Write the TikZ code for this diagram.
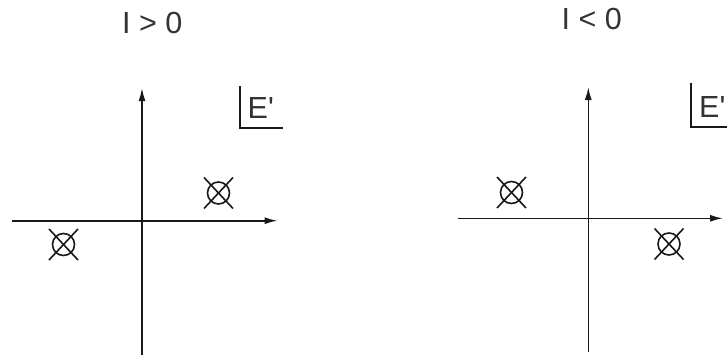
\documentclass[tikz,border=0pt]{standalone}
\usepackage{fontspec}
\newfontfamily\af{Liberation Sans}
\usetikzlibrary{arrows.meta}
\tikzset{
  axis/.style={line width=1.6pt, draw=black!90, -{Latex[length=13pt,width=7pt]}},
  plain/.style={line width=1.6pt, draw=black!90},
  mark circ/.style={circle, draw=black!90, line width=1.6pt, minimum size=22pt, inner sep=0pt},
  lbl/.style={anchor=base west, inner sep=0pt, font=\af\fontsize{30.5}{36}\selectfont, text=black!80},
}
\begin{document}
\begin{tikzpicture}[x=1pt,y=-1pt]
\useasboundingbox (0,0) rectangle (727,354);
% ---------- left panel ----------
\node[lbl] (t1) at (122,33.5) {I > 0};
\coordinate (xl1) at (12,220.7);
\coordinate (xr1) at (277.5,220.7);
\coordinate (yb1) at (142,356);
\coordinate (yt1) at (142,88);
\draw[axis] (xl1) -- (xr1);
\draw[axis] (yb1) -- (yt1);
\coordinate (bt1) at (240,86);
\coordinate (bc1) at (240,128);
\coordinate (be1) at (283,128);
\draw[plain] (bt1) -- (bc1) -- (be1);
\node[lbl] (e1) at (247.5,118) {E'};
\node[mark circ] (c1) at (218.5,193) {};
\node[mark circ] (c2) at (63.5,244.5) {};
\foreach \c in {c1,c2}{
  \draw[plain] ([shift={(-14.5,15.5)}]\c.center) -- ([shift={(14.5,-15.5)}]\c.center);
  \draw[plain] ([shift={(-14.5,-15.5)}]\c.center) -- ([shift={(14.5,15.5)}]\c.center);
}
% ---------- right panel ----------
\node[lbl] (t2) at (561.5,29.5) {I < 0};
\coordinate (xl2) at (458,218.3);
\coordinate (xr2) at (723,218.3);
\coordinate (yb2) at (588.3,352);
\coordinate (yt2) at (588.3,87);
\draw[axis] (xl2) -- (xr2);
\draw[axis] (yb2) -- (yt2);
\coordinate (bt2) at (690.7,83);
\coordinate (bc2) at (690.7,127);
\coordinate (be2) at (730,127);
\draw[plain] (bt2) -- (bc2) -- (be2);
\node[lbl] (e2) at (699,117) {E'};
\node[mark circ] (c3) at (511.5,192.5) {};
\node[mark circ] (c4) at (669,244) {};
\foreach \c in {c3,c4}{
  \draw[plain] ([shift={(-14.5,15.5)}]\c.center) -- ([shift={(14.5,-15.5)}]\c.center);
  \draw[plain] ([shift={(-14.5,-15.5)}]\c.center) -- ([shift={(14.5,15.5)}]\c.center);
}
\end{tikzpicture}
\end{document}
